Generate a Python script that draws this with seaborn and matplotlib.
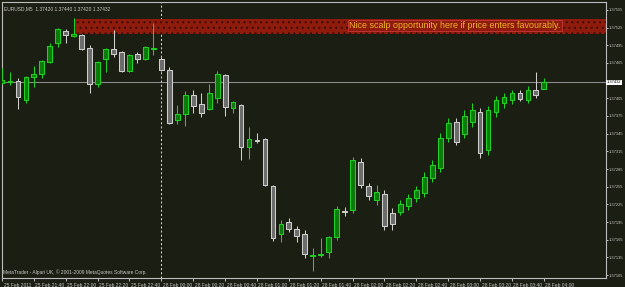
import matplotlib
matplotlib.use("Agg")
import matplotlib.pyplot as plt
import matplotlib.transforms as mtransforms
from matplotlib import font_manager as fm
import seaborn as sns

# ---------------- data (EURUSD M5 candles) ----------------
opens = [1.37431, 1.37433, 1.37434, 1.37402, 1.37441, 1.37446, 1.37467, 1.37499, 1.37519, 1.37511,
         1.37512, 1.37490, 1.37429, 1.37472, 1.37489, 1.37484, 1.37451, 1.37480, 1.37472, 1.37489,
         1.37472, 1.37453, 1.37368, 1.37378, 1.37411, 1.37395, 1.37387, 1.37406, 1.37445, 1.37389,
         1.37394, 1.37322, 1.37334, 1.37336, 1.37256, 1.37175, 1.37195, 1.37183, 1.37175, 1.37137,
         1.37139, 1.37144, 1.37170, 1.37214, 1.37215, 1.37297, 1.37256, 1.37232, 1.37243, 1.37210,
         1.37212, 1.37222, 1.37236, 1.37244, 1.37270, 1.37287, 1.37338, 1.37365, 1.37344, 1.37365,
         1.37382, 1.37317, 1.37382, 1.37397, 1.37402, 1.37414, 1.37402, 1.37419, 1.37420]
highs = [1.37456, 1.37450, 1.37439, 1.37443, 1.37460, 1.37470, 1.37499, 1.37524, 1.37523, 1.37541,
         1.37514, 1.37496, 1.37468, 1.37490, 1.37521, 1.37485, 1.37480, 1.37484, 1.37494, 1.37533,
         1.37475, 1.37458, 1.37394, 1.37417, 1.37419, 1.37414, 1.37429, 1.37451, 1.37446, 1.37400,
         1.37395, 1.37356, 1.37346, 1.37338, 1.37258, 1.37198, 1.37202, 1.37188, 1.37181, 1.37151,
         1.37168, 1.37171, 1.37222, 1.37220, 1.37305, 1.37304, 1.37261, 1.37258, 1.37249, 1.37219,
         1.37232, 1.37243, 1.37256, 1.37280, 1.37300, 1.37346, 1.37372, 1.37372, 1.37385, 1.37397,
         1.37389, 1.37392, 1.37409, 1.37414, 1.37419, 1.37419, 1.37426, 1.37450, 1.37440]
lows = [1.37429, 1.37428, 1.37387, 1.37397, 1.37424, 1.37439, 1.37465, 1.37492, 1.37499, 1.37509,
        1.37487, 1.37414, 1.37424, 1.37450, 1.37475, 1.37450, 1.37450, 1.37465, 1.37470, 1.37479,
        1.37451, 1.37361, 1.37361, 1.37358, 1.37380, 1.37373, 1.37385, 1.37397, 1.37375, 1.37380,
        1.37300, 1.37302, 1.37329, 1.37256, 1.37163, 1.37161, 1.37178, 1.37161, 1.37134, 1.37112,
        1.37136, 1.37134, 1.37164, 1.37205, 1.37210, 1.37253, 1.37232, 1.37224, 1.37181, 1.37181,
        1.37207, 1.37215, 1.37229, 1.37237, 1.37263, 1.37280, 1.37331, 1.37326, 1.37338, 1.37356,
        1.37304, 1.37309, 1.37373, 1.37389, 1.37395, 1.37400, 1.37397, 1.37406, 1.37420]
closes = [1.37436, 1.37434, 1.37407, 1.37441, 1.37446, 1.37468, 1.37494, 1.37523, 1.37512, 1.37514,
          1.37489, 1.37429, 1.37467, 1.37489, 1.37480, 1.37451, 1.37479, 1.37472, 1.37492, 1.37490,
          1.37453, 1.37363, 1.37378, 1.37411, 1.37392, 1.37380, 1.37414, 1.37446, 1.37390, 1.37399,
          1.37322, 1.37336, 1.37333, 1.37258, 1.37168, 1.37192, 1.37183, 1.37171, 1.37141, 1.37139,
          1.37141, 1.37170, 1.37217, 1.37212, 1.37300, 1.37258, 1.37239, 1.37246, 1.37188, 1.37192,
          1.37226, 1.37236, 1.37249, 1.37271, 1.37292, 1.37338, 1.37363, 1.37331, 1.37375, 1.37385,
          1.37312, 1.37385, 1.37402, 1.37407, 1.37414, 1.37404, 1.37419, 1.37411, 1.37432]

time_tick_labels = ["25 Feb 2011", "25 Feb 21:40", "25 Feb 22:00", "25 Feb 22:20", "25 Feb 22:40",
                    "28 Feb 00:00", "28 Feb 00:20", "28 Feb 00:40", "28 Feb 01:00", "28 Feb 01:20",
                    "28 Feb 01:40", "28 Feb 02:00", "28 Feb 02:20", "28 Feb 02:40", "28 Feb 03:00",
                    "28 Feb 03:20", "28 Feb 03:40", "28 Feb 04:00"]
bars_per_tick = 4
price_ticks = [1.37105, 1.37135, 1.37165, 1.37195, 1.37225, 1.37255, 1.37285, 1.37315,
               1.37345, 1.37375, 1.37405, 1.37435, 1.37465, 1.37495, 1.37525, 1.37555]
current_price = 1.37432
day_start_bar = 20
zone_start_bar = 9
zone_low, zone_high = 1.37514, 1.37540
note_text = "Nice scalp opportunity here if price enters favourably."
note_bar, note_price = 43.6, 1.37528
header_text = "EURUSD,M5  1.37420 1.37440 1.37420 1.37432"
footer_text = "MetaTrader - Alpari UK, \u00a9 2001-2009 MetaQuotes Software Corp."

# ---------------- style ----------------
BG = "#1b1e13"
FG = "#c8c8c8"
BULL_EDGE, BULL_FILL = "#1fd21f", "#0c7a0c"
BEAR_EDGE, BEAR_FILL = "#cfcfcf", "#6c6c6c"

sns.set_style("dark", {"axes.facecolor": BG, "figure.facecolor": BG,
                       "axes.edgecolor": "#bdbdbd", "grid.color": BG})
names = {f.name for f in fm.fontManager.ttflist}
if "Liberation Sans Narrow" in names:
    small_family, small_size = "Liberation Sans Narrow", 4.2
else:
    small_family, small_size = "Liberation Sans", 3.5
plt.rcParams["font.family"] = [small_family, "DejaVu Sans"]
plt.rcParams["hatch.linewidth"] = 0.6
price_size = 2.9

W, H = 625, 287
fig = plt.figure(figsize=(W / 100, H / 100), dpi=100, facecolor=BG)
ax = fig.add_axes([2 / W, 9 / H, 604 / W, 276 / H])
ax.set_facecolor(BG)

n = len(opens)
xs = list(range(n))
body_w = 0.6
for i in xs:
    o, h, l, c = opens[i], highs[i], lows[i], closes[i]
    bull = c >= o
    edge = BULL_EDGE if bull else BEAR_EDGE
    fill = BULL_FILL if bull else BEAR_FILL
    ax.vlines(i, l, h, color=edge, lw=0.75, zorder=3)
    ax.bar(i, abs(c - o), bottom=min(o, c), width=body_w, color=fill,
           edgecolor=edge, linewidth=0.75, zorder=4)

x0, x1 = 0.025, 75.8
ax.set_xlim(x0, x1)
ax.set_ylim(1.37100, 1.375685)

# highlighted zone
ax.fill_between([zone_start_bar, x1], zone_low, zone_high, facecolor="#8e1b0c",
                edgecolor="#2a0a04", hatch="...", linewidth=0, zorder=2)
ax.text(note_bar, note_price, note_text, color="#f2b52a", fontsize=6.4,
        family=["Liberation Sans", "DejaVu Sans"], va="center", ha="left", zorder=6,
        bbox=dict(boxstyle="square,pad=0.12", facecolor="#8e1b0c", edgecolor="#c8383a", lw=0.6))

# current price line and day separator
ax.axhline(current_price, color="#8a8a8a", lw=0.8, zorder=1)
ax.axvline(day_start_bar - 0.1, color="#d0d0d0", lw=0.75, ls=(0, (2, 2)), zorder=1)

# axes ticks (the label under the current-price tag is hidden, as on the terminal)
ax.yaxis.tick_right()
ax.set_yticks(price_ticks)
ax.set_yticklabels(["" if abs(p - current_price) < 0.0001 else f"{p:.5f}" for p in price_ticks],
                   family="Liberation Sans")
ax.set_xticks(list(range(0, n, bars_per_tick)))
ax.set_xticklabels(time_tick_labels)
ax.tick_params(axis="both", colors="#bdbdbd", labelcolor=FG, labelsize=small_size,
               length=2.5, width=0.7, direction="out")
ax.tick_params(axis="y", pad=0.4, labelsize=price_size, length=1.6)
ax.tick_params(axis="x", pad=0.8)
ax.tick_params(axis="y", which="both", left=False, right=True)
ax.tick_params(axis="x", which="both", top=False, bottom=True)
ax.grid(False)
offset = mtransforms.ScaledTranslation(1.5 / 100, 0, fig.dpi_scale_trans)
for lab in ax.get_xticklabels():
    lab.set_horizontalalignment("left")
    lab.set_transform(lab.get_transform() + offset)
for s in ax.spines.values():
    s.set_visible(True)
    s.set_color("#bdbdbd")
    s.set_linewidth(0.8)

# current price tag on the price scale
ax.text(1.0018, current_price, f"{current_price:.5f}", transform=ax.get_yaxis_transform(),
        color="#000000", fontsize=price_size, family="Liberation Sans", va="center", ha="left",
        clip_on=False, zorder=7,
        bbox=dict(boxstyle="square,pad=0.15", facecolor="#ffffff", edgecolor="none"))

# header and footer texts
ax.text(0.004, 0.985, header_text, transform=ax.transAxes, color=FG, fontsize=small_size,
        va="top", ha="left", zorder=7)
ax.text(0.002, 0.012, footer_text, transform=ax.transAxes, color=FG, fontsize=small_size,
        va="bottom", ha="left", zorder=7)

fig.savefig("out.png", dpi=100, facecolor=BG)
